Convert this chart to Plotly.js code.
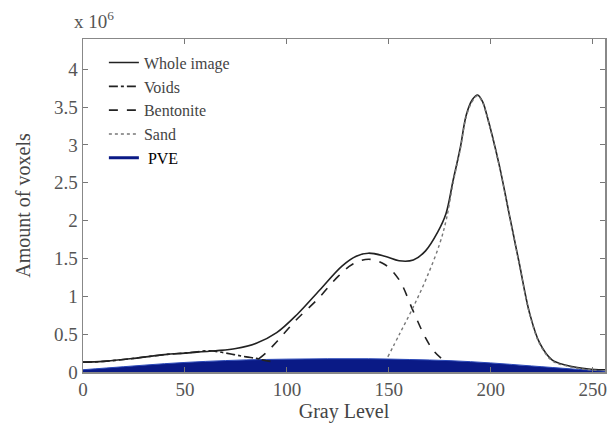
<!DOCTYPE html>
<html>
<head>
<meta charset="utf-8">
<script src="https://cdn.plot.ly/plotly-3.0.1.min.js"></script>
<style>html,body{margin:0;padding:0;background:#fff;}#chart{width:610px;height:428px;}</style>
</head>
<body>
<div id="chart"></div>
<script>
// Values in units of 10^6 voxels
const wholeX = [0, 10, 25, 40, 50, 65, 75, 85, 95, 105, 116, 127, 134, 140, 148, 155, 162, 168, 174, 178, 181.5, 185, 188, 191, 193.5, 196, 198, 204, 209, 214, 219, 224, 230, 237, 245, 253, 256];
const wholeY = [0.13, 0.14, 0.18, 0.23, 0.25, 0.28, 0.31, 0.38, 0.52, 0.76, 1.08, 1.40, 1.53, 1.57, 1.53, 1.47, 1.48, 1.6, 1.85, 2.09, 2.53, 2.96, 3.4, 3.6, 3.66, 3.57, 3.4, 2.75, 2.09, 1.43, 0.78, 0.38, 0.16, 0.09, 0.05, 0.03, 0.03];

const voidsX = [0, 10, 25, 40, 50, 62, 68, 74, 80, 85, 88, 92];
const voidsY = [0.13, 0.14, 0.18, 0.23, 0.25, 0.28, 0.26, 0.23, 0.2, 0.18, 0.16, 0.14];

const bentX = [86, 90, 95, 105, 115, 125, 132, 140, 148, 155, 162, 168, 172, 177];
const bentY = [0.17, 0.26, 0.4, 0.7, 0.96, 1.26, 1.42, 1.49, 1.42, 1.22, 0.8, 0.45, 0.28, 0.15];

const sandX = [149.5, 155.4, 162, 168.6, 175, 178.3, 181.5, 185, 188, 191, 193.5, 196, 198, 204, 209, 214, 219, 224, 230, 237, 245, 253];
const sandY = [0.2, 0.51, 0.86, 1.25, 1.7, 2.03, 2.5, 2.94, 3.38, 3.58, 3.65, 3.56, 3.39, 2.74, 2.08, 1.42, 0.77, 0.37, 0.15, 0.08, 0.04, 0.02];

const pveX = [0, 20, 40, 60, 80, 100, 120, 140, 160, 180, 200, 220, 240, 256];
const pveY = [0.03, 0.07, 0.11, 0.14, 0.16, 0.17, 0.175, 0.175, 0.165, 0.15, 0.12, 0.08, 0.04, 0.01];

const xTicks = [0, 50, 100, 150, 200, 250];
const yTicks = [0, 0.5, 1, 1.5, 2, 2.5, 3, 3.5, 4];

const serif = '"Liberation Serif", "Times New Roman", serif';

const traces = [
  {x: pveX, y: pveY, mode: 'lines', fill: 'tozeroy', fillcolor: '#0a1a86',
   line: {color: '#2a48b8', width: 1, shape: 'spline'}, showlegend: false, hoverinfo: 'skip'},
  {x: wholeX, y: wholeY, name: 'Whole image', mode: 'lines',
   line: {color: '#222', width: 1.6, shape: 'spline'}},
  {x: voidsX, y: voidsY, name: 'Voids', mode: 'lines',
   line: {color: '#222', width: 1.6, dash: 'dashdot', shape: 'spline'}},
  {x: bentX, y: bentY, name: 'Bentonite', mode: 'lines',
   line: {color: '#222', width: 1.6, dash: 'dash', shape: 'spline'}},
  {x: sandX, y: sandY, name: 'Sand', mode: 'lines',
   line: {color: '#777', width: 1.4, dash: 'dot', shape: 'spline'}},
  {x: [null], y: [null], name: '<span style="color:#000;font-size:16px"> PVE</span>', mode: 'lines',
   line: {color: '#0a1a86', width: 3}}
];

const axisFont = {family: serif, size: 19, color: '#555'};

const layout = {
  width: 610, height: 428,
  margin: {l: 83, r: 5, t: 39, b: 56},
  paper_bgcolor: '#fff', plot_bgcolor: '#fff',
  showlegend: true,
  legend: {x: 0.04, y: 0.98, xanchor: 'left', yanchor: 'top', bgcolor: 'rgba(0,0,0,0)',
           font: {family: serif, size: 16, color: '#444'},
           tracegroupgap: 0},
  xaxis: {range: [0, 256], tickvals: xTicks, ticktext: xTicks.map(String),
          ticks: 'inside', ticklen: 5, tickcolor: '#777', showline: true, linecolor: '#888', linewidth: 1.5,
          mirror: 'ticks', showgrid: false, zeroline: false, tickfont: axisFont, automargin: false,
          title: {text: 'Gray Level', font: {family: serif, size: 20, color: '#444'}, standoff: 0}},
  yaxis: {range: [0, 4.4], tickvals: yTicks, ticktext: yTicks.map(String),
          ticks: 'inside', ticklen: 5, tickcolor: '#777', showline: true, linecolor: '#888', linewidth: 1.5,
          mirror: 'ticks', showgrid: false, zeroline: false, tickfont: axisFont, automargin: false,
          title: {text: 'Amount of voxels', font: {family: serif, size: 20, color: '#444'}, standoff: 18}},
  annotations: [{text: 'x 10<sup>6</sup>', xref: 'paper', yref: 'paper', x: -0.022, y: 1.015,
                 xanchor: 'left', yanchor: 'bottom', showarrow: false,
                 font: {family: serif, size: 19, color: '#555'}}]
};

Plotly.newPlot('chart', traces, layout, {displayModeBar: false, staticPlot: true});
</script>
</body>
</html>
